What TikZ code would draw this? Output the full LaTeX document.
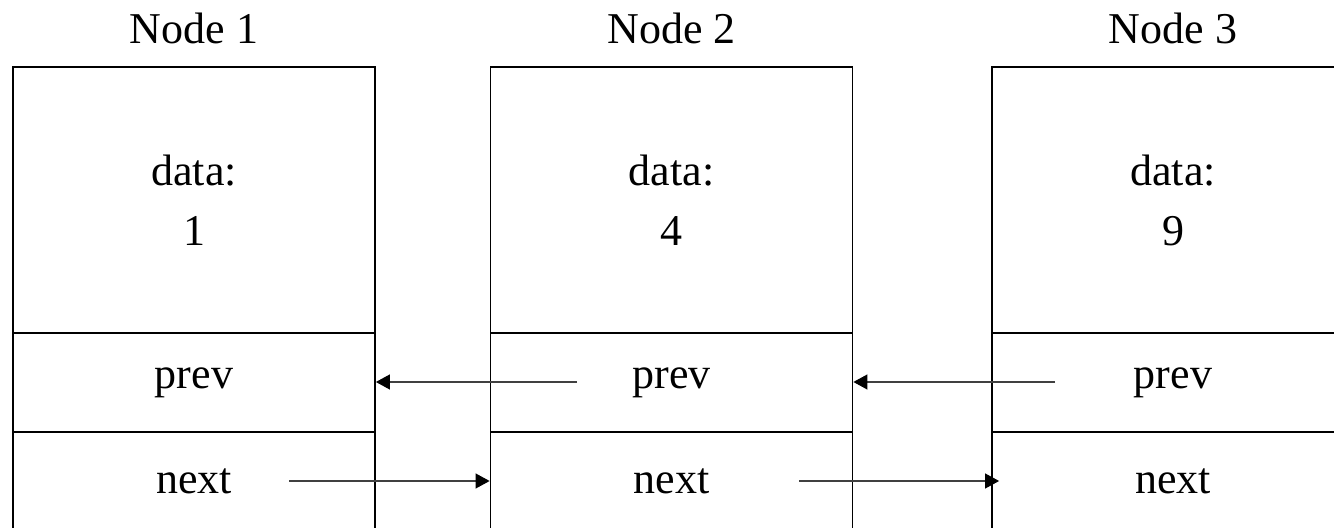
\documentclass[tikz,border=0pt]{standalone}
\usepackage{fontspec}
\setmainfont{Liberation Serif}
\usepackage{xcolor}
\usetikzlibrary{arrows.meta}
\definecolor{mydark}{gray}{0.25}

\begin{document}
\begin{tikzpicture}[x=0.5pt,y=-0.5pt,
every node/.style={font=\fontsize{22}{30}\selectfont},
field/.style={draw,line width=0.9pt,minimum width=181pt,inner sep=0pt,align=center},
link/.style={mydark,line width=0.55pt,-{Triangle[length=7pt,width=7.5pt,black]}}]
\useasboundingbox (0,0) rectangle (1334,528);
\clip (0,0) rectangle (1334,528);
\foreach \x/\n/\v in {194/1/1, 671.5/2/4, 1173/3/9} {
  \node (title\n) at (\x,28) {Node \n};
  \node[field,minimum height=133pt] (data\n) at (\x,200) {data:\\\v};
  \node[field,minimum height=49.5pt] (prev\n) at (\x,382.5) {prev};
  \node[field,minimum height=49.5pt] (next\n) at (\x,481.5) {next};
}
% start points of the pointers
\coordinate (p2) at (577,382);
\coordinate (p3) at (1055,382);
\coordinate (n1) at (289,481);
\coordinate (n2) at (799,481);
\draw[link] (p2) -- (prev1.east|-p2);
\draw[link] (p3) -- (prev2.east|-p3);
\draw[link] (n1) -- (next2.west|-n1);
\draw[link,shorten >=-4pt] (n2) -- (next3.west|-n2);
\end{tikzpicture}
\end{document}
